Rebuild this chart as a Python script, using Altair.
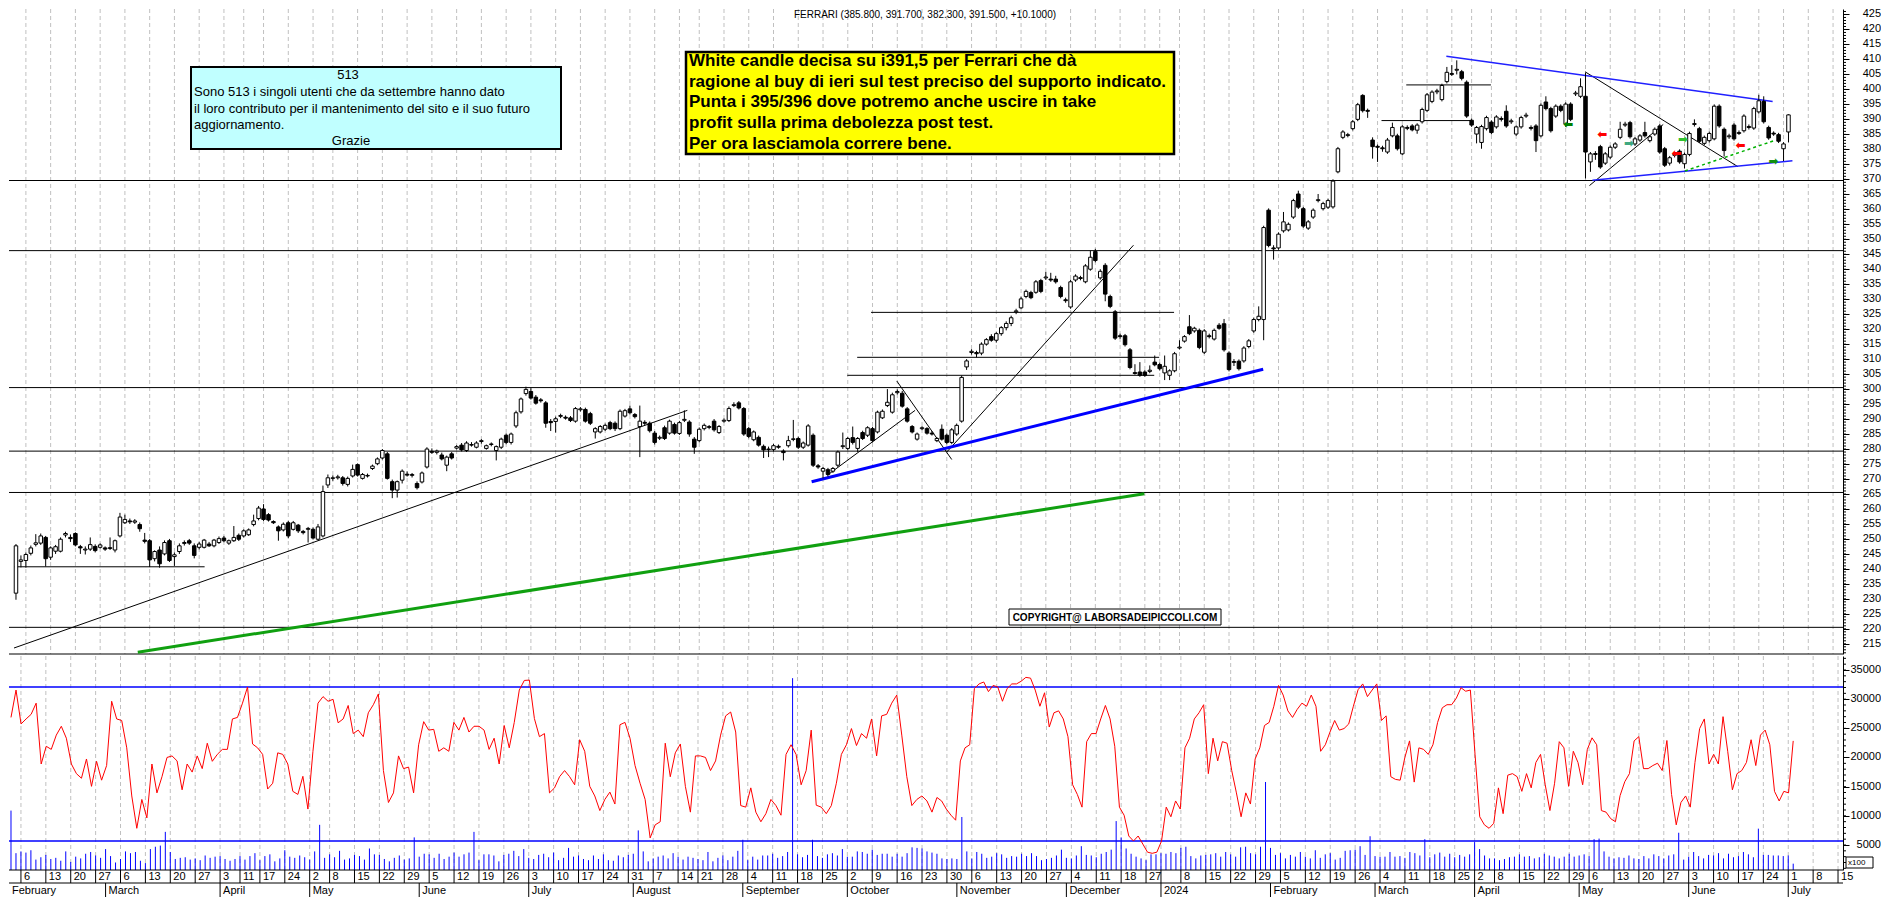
import datetime as dt
import altair as alt
import numpy as np
import pandas as pd

# ---------------- data ----------------
opens = [
231.9,242.5,242.8,245.2,248.2,248.6,250.5,243.9,245.9,245.9,
251.3,250.5,251.8,247.4,246.3,246.6,247.5,247.2,247.0,246.8,
246.3,251.0,255.4,256.0,255.6,254.8,249.6,249.4,243.4,246.3,
245.0,249.4,244.1,245.8,248.5,249.4,247.7,247.2,247.2,248.3,
247.7,248.8,250.3,248.6,249.4,251.2,251.0,251.4,254.8,256.8,
260.0,258.1,255.8,254.0,253.0,255.4,253.2,254.6,252.5,253.2,
253.2,249.9,251.0,268.0,270.2,270.4,270.4,268.2,271.0,274.8,
270.2,271.2,273.5,275.1,277.0,278.4,269.1,266.3,269.6,271.6,
271.2,268.5,269.0,274.0,279.2,278.9,278.0,274.6,278.4,280.3,
281.3,279.5,281.5,280.6,282.5,280.2,281.5,279.5,280.6,284.6,
282.2,287.7,292.4,298.5,299.2,297.3,296.4,295.4,289.2,289.2,
290.9,290.6,290.4,289.3,293.1,293.2,291.8,285.7,285.7,286.6,
288.8,288.6,286.8,291.0,293.4,291.5,287.5,288.9,288.6,285.3,
283.6,287.1,285.3,288.2,285.2,289.6,289.0,283.3,282.8,286.8,
287.2,289.3,285.5,289.3,289.5,294.5,295.4,293.5,286.8,283.1,
283.9,280.9,280.0,279.8,280.9,279.3,281.1,283.2,283.5,280.6,
281.3,284.6,274.4,272.6,273.1,272.6,274.6,280.8,280.2,283.8,
280.2,285.5,284.6,286.8,285.7,290.4,294.5,292.3,298.8,298.6,
293.4,287.5,283.3,286.8,286.8,285.3,282.8,286.6,284.6,282.2,
285.0,289.3,307.4,312.2,312.2,312.0,315.0,317.5,316.3,318.5,
320.5,321.9,325.8,327.1,330.9,332.2,332.3,336.2,337.1,336.7,
336.7,333.9,329.8,327.4,336.4,337.2,335.8,340.0,345.9,337.1,
341.3,330.9,325.8,317.8,317.8,313.1,305.5,305.7,305.7,305.9,
309.0,308.2,305.4,304.6,306.1,313.7,316.0,320.8,319.4,319.6,
312.3,317.8,316.7,321.3,321.8,312.0,308.9,309.3,309.4,314.2,
319.4,323.2,323.2,359.7,347.1,347.1,352.8,353.1,357.4,365.1,
360.2,353.7,357.4,362.9,360.2,360.7,360.8,372.5,384.0,384.6,
386.9,390.0,398.0,393.0,383.1,381.0,380.5,379.1,384.5,384.5,
378.5,387.0,387.8,386.4,389.2,393.0,396.0,399.2,396.6,402.6,
405.0,406.4,405.9,402.4,389.7,385.1,382.3,386.9,389.1,387.5,
390.3,392.7,389.2,385.1,387.5,391.1,387.3,387.8,384.5,395.8,
393.6,391.1,394.4,388.4,395.1,398.5,397.7,397.7,375.8,378.6,
380.9,375.4,377.4,380.7,384.0,388.1,388.9,381.8,383.1,385.6,
382.9,385.1,387.8,380.2,375.4,378.0,379.4,375.2,378.3,388.3,
386.9,382.0,382.9,383.5,394.4,386.7,384.2,388.1,385.3,386.2,
387.6,387.1,392.5,396.0,387.3,385.4,384.9,380.2,385.8]

highs = [
248.3,244.5,245.5,247.8,251.6,251.8,251.0,247.5,248.0,250.5,
252.4,251.5,252.2,248.0,247.5,250.5,248.2,248.5,247.5,250.5,
249.8,258.7,258.1,256.8,256.6,255.5,252.0,250.0,246.2,247.5,
249.5,250.0,245.5,248.5,249.5,250.0,248.5,249.0,250.0,249.0,
250.0,250.8,251.0,249.8,254.3,251.8,253.2,253.5,258.1,261.0,
261.6,258.6,256.2,254.5,255.5,256.0,256.0,255.0,253.0,254.0,
253.8,255.0,267.8,271.5,271.2,271.4,271.0,270.8,274.8,275.2,
272.0,271.8,274.8,277.2,280.0,279.0,269.8,269.5,273.2,272.5,
272.0,269.2,272.5,280.6,280.2,279.8,278.8,277.8,279.0,281.3,
282.0,282.6,282.3,282.6,283.3,281.5,282.2,281.2,283.8,285.2,
285.5,292.8,297.2,300.8,300.3,298.0,297.0,296.0,290.0,290.8,
291.8,291.2,291.0,294.0,294.0,293.8,292.4,287.3,288.0,288.5,
289.4,289.2,293.2,293.4,294.5,292.0,294.5,289.6,289.2,286.0,
284.5,287.8,289.8,288.8,289.4,292.9,289.6,284.0,287.2,288.5,
288.0,290.0,288.0,290.2,294.2,295.6,296.0,294.0,287.4,286.2,
284.5,281.5,280.8,281.7,281.5,279.9,284.4,289.7,284.1,282.5,
288.3,285.2,275.0,274.0,273.7,274.0,279.5,285.5,284.0,287.5,
284.0,286.1,287.6,287.4,292.8,293.2,300.0,298.8,299.9,299.4,
294.0,288.0,285.5,287.6,287.3,286.0,284.0,288.2,285.2,287.0,
288.5,304.5,310.0,313.3,312.8,315.6,317.0,318.3,319.0,321.0,
322.6,324.5,326.8,330.8,333.2,332.8,336.4,336.8,339.1,338.8,
337.8,334.5,330.5,336.5,338.3,337.8,341.7,346.2,346.8,340.0,
342.0,331.5,326.4,318.5,318.4,313.7,308.3,309.0,306.3,307.9,
311.2,308.8,311.2,306.6,312.4,316.3,318.0,324.7,320.8,320.2,
320.0,318.5,320.2,322.0,323.4,312.6,310.0,309.9,314.3,316.7,
323.8,327.6,354.5,360.3,348.0,352.3,359.1,355.6,363.5,366.2,
360.8,356.4,360.3,365.1,362.5,363.5,370.0,380.8,386.4,385.5,
389.8,395.5,398.4,393.6,384.0,381.6,381.2,383.8,388.9,385.2,
388.1,388.0,388.4,388.7,393.9,398.8,399.7,400.2,401.9,407.5,
408.1,409.7,406.5,403.0,390.3,387.8,388.2,391.2,389.7,391.4,
391.0,394.7,390.2,388.0,391.2,392.2,388.0,388.4,395.3,397.7,
394.2,395.0,395.0,395.7,395.7,399.5,403.7,405.5,379.1,379.4,
381.5,379.1,381.3,382.4,389.2,389.2,389.5,384.1,385.1,389.2,
384.8,387.3,388.4,380.8,377.8,379.0,380.0,378.9,385.9,390.0,
387.5,384.6,385.9,395.0,395.0,387.3,385.2,388.7,386.3,391.7,
388.3,394.2,398.2,397.7,387.9,386.0,385.5,382.4,391.7]

lows = [
229.7,240.5,240.4,244.5,247.5,248.0,240.8,243.0,245.0,245.5,
250.5,249.0,247.5,245.0,244.8,246.0,245.5,246.8,246.0,246.3,
245.5,250.5,255.0,255.0,255.0,252.4,248.5,240.6,242.5,240.4,
244.5,242.3,241.0,245.0,247.8,248.0,243.5,246.5,246.8,247.3,
247.2,248.3,248.9,248.0,249.0,249.3,250.5,251.0,254.2,256.2,
256.0,255.8,255.0,249.4,252.5,250.2,252.8,252.0,251.5,248.8,
249.8,249.5,250.5,267.0,269.4,269.8,267.8,267.5,270.5,270.8,
269.8,270.5,273.0,274.6,276.5,269.8,263.6,263.8,268.5,270.8,
270.5,266.5,268.5,273.5,278.4,278.2,276.2,272.6,276.5,279.8,
279.2,279.0,280.8,280.2,281.8,279.8,280.9,276.2,280.0,281.6,
281.5,287.0,291.8,297.8,296.5,294.8,295.5,287.1,286.0,285.5,
290.3,289.8,289.0,288.8,292.5,288.8,288.0,283.5,285.2,286.0,
286.3,286.0,286.3,290.5,291.5,290.2,277.3,288.0,285.5,281.5,
283.0,283.0,284.8,284.8,284.7,289.0,284.1,278.4,282.2,286.2,
286.6,285.8,285.0,288.8,289.0,294.0,293.2,284.4,283.6,282.6,
280.8,277.0,277.3,279.2,280.1,276.2,280.5,282.6,280.0,280.0,
280.8,274.0,273.4,270.2,270.8,272.0,274.0,280.0,279.6,281.5,
279.0,283.0,284.0,282.2,285.2,290.0,294.0,291.8,298.2,293.8,
288.8,285.2,282.8,286.3,284.8,284.5,282.3,282.8,281.6,281.6,
284.4,288.8,306.4,311.5,310.6,311.3,314.5,315.8,315.5,317.8,
319.6,321.0,325.0,326.6,330.3,330.0,331.8,332.0,336.4,335.8,
335.2,330.3,328.8,326.8,335.8,336.3,335.3,339.5,342.3,336.5,
329.3,327.0,316.4,316.8,314.2,306.6,304.8,304.1,304.1,305.3,
307.6,306.2,303.0,303.0,305.6,313.2,315.5,318.0,318.8,313.3,
311.7,316.9,316.2,319.8,312.5,305.9,307.7,306.2,308.8,313.6,
318.8,322.6,316.3,347.3,343.2,346.5,352.2,352.6,356.8,360.1,
353.8,353.1,356.8,362.3,359.6,360.1,360.2,372.0,383.4,384.0,
386.3,389.4,392.3,390.5,376.9,375.8,379.2,378.5,384.0,379.6,
378.0,386.4,386.0,385.2,388.6,392.4,395.4,398.4,396.0,402.0,
404.5,405.0,403.0,390.5,387.5,382.0,380.2,386.3,385.0,386.9,
389.3,387.2,388.5,384.5,386.9,390.5,386.3,379.1,384.0,393.0,
385.6,390.5,392.4,387.5,389.4,397.8,397.1,370.3,372.5,376.5,
373.5,374.8,376.8,380.1,383.4,387.5,383.6,381.2,382.5,383.9,
382.3,384.5,378.5,374.1,374.6,377.3,375.2,373.6,377.7,387.6,
382.1,381.4,382.3,383.0,387.2,377.6,383.5,382.9,384.8,385.6,
386.6,386.5,391.9,388.6,383.2,384.5,382.1,376.1,382.3]

closes = [
247.7,243.0,244.8,247.0,248.7,251.0,243.4,247.0,247.4,249.9,
251.8,250.1,248.0,247.0,246.6,248.1,246.1,248.0,246.6,247.1,
249.4,257.3,256.5,255.7,256.0,253.4,249.2,243.0,245.8,241.7,
248.8,242.8,244.7,247.7,248.8,248.6,244.5,248.3,249.6,247.7,
249.6,250.1,249.4,249.4,250.5,249.9,252.7,253.0,256.0,260.3,
256.5,256.3,255.4,252.7,254.9,251.0,255.4,252.7,252.1,253.5,
250.3,254.0,265.8,270.4,270.4,270.7,268.5,270.2,273.2,271.3,
271.5,271.0,274.3,276.7,279.5,270.2,266.3,269.1,272.6,271.3,
271.5,267.1,272.0,280.0,278.9,279.3,276.7,277.3,277.0,280.8,
279.7,282.0,281.3,282.0,282.8,281.1,281.7,280.8,283.3,282.2,
285.0,292.1,296.7,299.9,297.0,295.3,296.1,288.6,288.8,290.1,
291.2,290.3,289.5,293.5,293.4,289.3,288.6,286.8,287.5,287.9,
286.8,286.8,292.6,292.8,292.1,290.8,289.3,288.6,286.1,282.2,
283.9,283.5,289.3,285.3,288.8,289.9,285.0,280.6,286.6,287.9,
287.5,286.4,287.5,289.6,293.5,294.8,293.7,285.0,284.2,285.7,
281.3,279.7,279.8,281.1,280.6,278.8,282.8,283.4,280.6,282.0,
287.7,274.6,274.0,273.5,271.5,273.5,279.0,281.1,283.5,282.2,
283.5,283.5,287.1,282.8,292.3,292.6,295.6,298.1,299.2,294.3,
289.3,285.7,285.0,287.1,285.3,285.0,283.5,283.3,282.2,286.4,
287.9,303.9,309.4,312.6,311.8,315.0,316.5,316.3,318.5,320.5,
321.9,323.8,326.1,330.1,332.6,330.5,335.8,332.6,337.4,336.4,
335.8,330.9,329.5,335.8,337.7,336.9,341.1,344.0,342.9,339.3,
331.7,327.6,317.0,317.5,314.8,307.2,305.2,304.6,304.6,306.3,
308.1,306.8,307.6,306.1,311.8,314.0,317.5,318.5,320.3,313.9,
319.4,317.5,319.6,320.3,313.1,306.5,309.2,306.8,313.7,316.1,
323.2,324.3,353.9,347.9,346.8,351.7,355.8,355.0,362.9,360.7,
354.4,355.8,359.7,363.2,361.9,362.9,369.4,380.2,385.8,384.9,
389.2,394.9,392.9,392.7,380.9,380.7,380.2,383.1,387.3,380.2,
387.5,387.3,386.5,388.1,393.3,398.2,399.1,399.5,401.3,405.7,
405.3,406.7,403.7,391.1,388.1,387.3,387.6,390.6,385.6,390.8,
390.0,387.8,389.5,387.5,390.6,391.4,387.0,382.9,394.7,393.6,
386.2,394.4,393.0,395.1,390.0,398.8,400.9,379.1,378.5,378.3,
374.1,378.5,380.7,381.8,386.7,388.4,384.2,383.5,384.5,384.5,
384.2,386.7,379.1,374.7,377.2,378.3,375.8,378.3,385.3,388.6,
382.7,384.0,385.3,394.4,387.8,379.6,384.5,383.5,385.6,391.1,
387.3,393.6,396.2,389.2,383.8,385.1,382.7,381.8,391.5]

volumes = [
10900,3600,3900,3700,4100,2500,2900,3300,2600,2800,
2300,3900,2100,3000,2700,3500,3800,3200,2800,4300,
3100,2000,2600,3900,3600,3800,2300,1900,4300,4700,
4900,7250,3800,2600,2800,2900,2500,2700,2400,3200,
2800,3000,3100,2600,2300,2600,3100,2500,3100,3600,
2400,3100,3400,2200,2700,4100,3000,2800,3200,2900,
2500,3900,8460,2800,3400,2900,4000,2500,2700,3300,
3100,2500,4400,3400,3300,2600,2200,2800,3200,2500,
2700,6300,3000,3500,3400,2800,3500,2600,3000,3700,
3000,3400,3700,7250,2400,3400,3400,3200,2200,3300,
3500,4000,3100,4300,2800,2600,3300,3500,2900,3700,
2400,2800,4500,3000,3200,2600,2400,3200,2600,3400,
2400,2300,3200,2900,3300,3500,7500,3900,2200,2700,
3000,3200,2700,3600,3000,2500,3000,2800,2600,2400,
3800,2200,2800,3200,2400,3000,4000,5900,2400,3000,
2500,3200,3200,3500,2800,3100,3800,33600,3400,2900,
3300,5900,3100,2800,3400,3600,3200,4300,3000,3000,
3900,3800,3500,4200,3300,3500,3500,3000,3500,3000,
3600,4600,4500,4400,3900,3700,3500,2700,2600,2700,
2600,9800,3900,2700,3800,3500,2800,3000,3600,3400,
2800,3100,3000,3500,3100,3600,3100,2400,2600,2800,
3200,4200,2800,2700,3200,4800,3300,3200,2900,3500,
3800,4200,9100,6300,4400,3500,3000,2700,2400,3400,
3400,3600,3500,3800,3600,4500,4700,3100,2700,3200,
3300,3400,3600,3000,3800,3400,3000,4600,4700,3600,
3400,4700,15800,4500,3300,3600,2700,3300,3000,3800,
3000,2700,4100,2800,3400,3600,2500,2800,4000,4100,
4200,4800,3300,6500,3100,3000,3000,3800,3000,3100,
2800,3800,3600,3200,6000,2900,3400,3700,3000,3500,
2900,3300,3000,3400,5500,4300,3200,2700,2700,2400,
2600,2900,3000,3400,3000,3100,2700,2900,3500,3200,
3000,2700,3000,3500,3000,3200,3400,3100,6000,6100,
3900,3000,2700,2900,2800,3200,2700,2600,3100,2700,
3400,3100,2700,3200,3400,7100,2500,3000,3800,3100,
2700,3300,3200,3600,2700,3500,2900,3100,3800,3400,
2900,7800,3300,3300,3200,3200,3100,3200,1800]

rsi_first = [
62.1,69.2,60.4,61.7,62.9,65.8,50,54.6,53.8,57.5,59.8,56.7,50,47.5,46.3,51.3,44.2,50.7,45.8,49.6,
66.3,61.7,61.3,54.2,41.7,33.3,40.8,36,50,42.5,46.7,51.7,52.1,50.8,43.3,50,47.9,52.1,48.8,55.4,
50.7,52.5,53.8,53.8,61.7,62.1,65.8,70,55.2,54.2,52.5,43.5,45,52.9,52.5,50,42.9,42.1,46.8,38.3,
53.3,65.8,67.5,66.3,66.8,60.7,61.7,65.2,57.9,58.8,57.1,63.3,65.4,68.2,48.3,40,42.5,52.1,48.8,49.2,
42.5,55,61,58.8,59,53.3,54.2,53.3,60.8,58.8,62.1,58.3,59.8,59.8,58.8,53.8,56.7,50,60,54.2,
60.8,69.2,71.7,71.8,61.8,57.1,57.9,42.5,43.8,46.7,48.3,46.7,44.6,56.3,53.3,44.2,41.7,37.9,40.8,42.7,
39.6,60.2,60.8,56.7,49.6,45,40.8,30.8,34.2,35,55.4,46.7,52.9,55.2,44.2,37.5,52.1,52.1,51.7,48.3,
50.8,57.5,62.5,63.5,58.3,39.2,38.8,43.8,37.5,35,37.1,40.8,39.2,36.7,52.5,55,52.5,44.6,48.3,58.8,
39.3,38.8,37.1,39.2,45,52.5,55,59.2,54.8,57.9,56.7,61.7,52.1,62.5,62.9,65.8,67.9,57.5,46.7,39.2,
40.8,41.7,40.4,37.5]

rsi_second = [
41.3,40.4,38.3,36.7,35.4,50.8,54.2,55,69.6,70.8,71.3,68.8,70.4,70,66.3,69.6,70.8,70.8,71.5,72.5,
72.3,69.2,65,68.5,59.6,63.3,63.8,61.7,57.1,44.6,42.1,38.8,55.8,57.9,57.9,61.7,65.2,61.7,54.6,38.8,
36.7,31.3,30,31.3,29.2,27.1,26.8,27.1,30,38.8,36.3,40.4,38.3,54.2,56.7,61.7,63.3,65.4,47.5,56.7,
50.8,55.8,55.4,48.3,42.5,36.3,42.5,39.6,51.3,54.2,60,60.8,65,70.4,67.9,63.8,62.1,64.2,65.8,65,
67.9,65,53.3,55,58.3,61.3,58.8,59.2,60.4,65,69.3,70.8,67.5,69.2,70.8,61.3,62.5,46.7,46,45.8,
51.7,56,45.3,54.2,53.8,52.5,55,60.8,64.6,65.4,65.4,67.1,69.8,68.9,69.2,52.5,36.3,34.2,33.3,34.6,
43.8,37.1,47.1,47.5,46.7,42.9,47.5,43.8,50.4,52.5,44.6,37.9,45,55.8,54.2,44.2,53.3,50.4,44.6,53.8,
56.8,55,37.9,37.5,35.8,35,41.8,45.4,47.5,56,57.1,48.8,48.8,49.6,50.2,48.3,56.1,42.1,34.2,40,
41.7,38.8,50.4,59.2,61.7,50,52.5,50,62.3,53.3,43.3,47.5,48.3,50.4,56.3,49.6,57.5,58.8,55,42.9,
40.4,42.9,42.5,56]

support_levels = [369.6, 346.2, 300.5, 279.3, 265.5, 220.5]
rsi_levels = [70, 30]
price_ticks = list(range(215, 426, 5))
volume_ticks = list(range(5000, 35001, 5000))

# short horizontal levels: start bar, end bar, price
short_start = [-0.4, 172.7, 169.9, 167.9, 280.8, 275.8]
short_end = [38.1, 233.9, 230.9, 229.9, 297.9, 293.9]
short_price = [240.7, 325.6, 310.6, 304.6, 401.5, 389.6]

# trend lines (bar index / price)
thin_x1 = [-0.4, 163.9, 177.9, 188.0, 316.9, 317.8]
thin_y1 = [213.6, 271.3, 302.7, 279.0, 405.9, 367.9]
thin_x2 = [135.6, 181.6, 189.0, 225.7, 347.8, 332.7]
thin_y2 = [292.9, 292.9, 276.5, 348.0, 374.2, 388.3]
green_line = [24.6, 212.2, 227.9, 265.1]
blue_thick = [160.7, 269.1, 251.9, 306.6]
blue_thin_x1 = [288.9, 318.4]
blue_thin_y1 = [411.1, 369.7]
blue_thin_x2 = [354.8, 358.8]
blue_thin_y2 = [396.0, 376.2]
dotted_line = [337.1, 372.8, 355.1, 382.9]

arrow_bar = [313.5, 320.4, 325.8, 336.7, 335.4, 348.3, 355.0]
arrow_price = [388.3, 385.1, 382.0, 383.4, 378.9, 381.5, 376.0]
arrow_glyph = ["⬅", "⬅", "➡", "➡", "⬅", "⬅", "➡"]
arrow_color = ["#008000", "#ff0000", "#40a880", "#30c030", "#ff0000", "#ff0000", "#109010"]

holidays = [dt.date(2023, 4, 7), dt.date(2023, 4, 10), dt.date(2023, 5, 1), dt.date(2023, 8, 15),
            dt.date(2023, 12, 25), dt.date(2023, 12, 26), dt.date(2024, 1, 1), dt.date(2024, 3, 29),
            dt.date(2024, 4, 1), dt.date(2024, 5, 1)]
month_names = ["January", "February", "March", "April", "May", "June", "July", "August",
               "September", "October", "November", "December"]

# ---------------- layout ----------------
W, PH, VH = 1834, 645, 214
XD = [-0.4, 368.0]
PD = [211.6, 426.83]
VD = [714, 37400]
RD = [22.47, 78.05]
FONT = "Liberation Sans"

N = min(len(opens), len(highs), len(lows), len(closes))
cd = pd.DataFrame({"i": np.arange(N), "o": opens[:N], "h": highs[:N], "l": lows[:N], "c": closes[:N]})
cd["fill"] = np.where(cd["c"] >= cd["o"], "white", "black")

days = []
d = dt.date(2023, 2, 2)
hol = set(holidays)
while d <= dt.date(2024, 7, 19):
    if d.weekday() < 5 and d not in hol:
        days.append(d)
    d += dt.timedelta(days=1)

week_idx = [k for k in range(1, len(days))
            if days[k].isocalendar()[:2] != days[k - 1].isocalendar()[:2] and k <= XD[1]]
month_idx = [k for k in range(1, len(days)) if days[k].month != days[k - 1].month and k <= XD[1]]

day_labels = []
prev = None
for k in week_idx:
    t = str(days[k].day)
    if prev is not None and (k - prev[0]) < 4 and len(prev[1]) == 2:
        continue
    day_labels.append((k, t))
    prev = (k, t)
dl = pd.DataFrame({"i": [a for a, b in day_labels], "t": [b for a, b in day_labels]})
ml_i = [XD[0]] + month_idx
ml_t = [month_names[days[0].month - 1]] + [
    (str(days[k].year) if days[k].month == 1 else month_names[days[k].month - 1]) for k in month_idx]
ml = pd.DataFrame({"i": ml_i, "t": ml_t})
wk = pd.DataFrame({"i": week_idx})
mo = pd.DataFrame({"i": month_idx})

xsc = alt.Scale(domain=XD, nice=False, zero=False)
psc = alt.Scale(domain=PD, nice=False, zero=False)
vsc = alt.Scale(domain=VD, nice=False, zero=False)
rsc = alt.Scale(domain=RD, nice=False, zero=False)

price_axis = alt.Axis(orient="right", values=price_ticks, tickSize=6, tickColor="black",
                      domainColor="black", labels=False, grid=False, title=None)


def X(f):
    return alt.X(f, type="quantitative", scale=xsc, axis=None)


def PY(f):
    return alt.Y(f, type="quantitative", scale=psc, axis=price_axis)


one = pd.DataFrame({"a": [0]})


def box(x1, y1, x2, y2, fill, sw):
    return alt.Chart(one).mark_rect(fill=fill, stroke="black", strokeWidth=sw).encode(
        x=alt.value(x1), x2=alt.value(x2), y=alt.value(y1), y2=alt.value(y2))


def txt(t, x, y, size, weight="normal", align="left"):
    return alt.Chart(one).mark_text(text=t, align=align, baseline="middle", fontSize=size,
                                    fontWeight=weight, font=FONT, color="black").encode(
        x=alt.value(x), y=alt.value(y))


def seg(x1, y1, x2, y2, color, width, dash=None):
    df = pd.DataFrame({"x1": x1, "y1": y1, "x2": x2, "y2": y2})
    kw = dict(color=color, strokeWidth=width)
    if dash:
        kw["strokeDash"] = dash
    return alt.Chart(df).mark_rule(**kw).encode(
        x=X("x1"), y=PY("y1"), x2=alt.X2("x2"), y2=alt.Y2("y2"))


grid = alt.Chart(wk).mark_rule(color="#c0c0c0", strokeDash=[4, 3], strokeWidth=1).encode(x=X("i"))

hlines = alt.Chart(pd.DataFrame({"p": support_levels})).mark_rule(color="black", strokeWidth=1).encode(
    y=PY("p"))
pminor = alt.Chart(pd.DataFrame({"p": list(range(212, 427))})).mark_rule(color="black").encode(
    y=PY("p"), x=alt.value(W), x2=alt.value(W + 3))
plabels = alt.Chart(pd.DataFrame({"p": price_ticks})).mark_text(
    align="right", baseline="middle", fontSize=11, font=FONT, color="black").encode(
    y=PY("p"), x=alt.value(W + 38), text=alt.Text("p:Q", format="d"))
pbottom = alt.Chart(one).mark_rule(color="black").encode(x=alt.value(0), x2=alt.value(W), y=alt.value(PH))

shorts = seg(short_start, short_price, short_end, short_price, "black", 1)
thin = seg(thin_x1, thin_y1, thin_x2, thin_y2, "black", 1)
green = seg([green_line[0]], [green_line[1]], [green_line[2]], [green_line[3]], "#10a010", 3)
bluek = seg([blue_thick[0]], [blue_thick[1]], [blue_thick[2]], [blue_thick[3]], "#0000ff", 3)
bluen = seg(blue_thin_x1, blue_thin_y1, blue_thin_x2, blue_thin_y2, "#2020ff", 1.5)
dotted = seg([dotted_line[0]], [dotted_line[1]], [dotted_line[2]], [dotted_line[3]], "#00b000", 1.5, [3, 3])

wick = alt.Chart(cd).mark_rule(color="black", strokeWidth=1).encode(x=X("i"), y=PY("l"), y2=alt.Y2("h"))
body = alt.Chart(cd).mark_bar(size=3.5, stroke="black", strokeWidth=1).encode(
    x=X("i"), y=PY("o"), y2=alt.Y2("c"), fill=alt.Fill("fill:N", scale=None))

arr = pd.DataFrame({"i": arrow_bar, "p": arrow_price, "g": arrow_glyph, "c": arrow_color})
arrows = alt.Chart(arr).mark_text(font="DejaVu Sans", fontSize=12, fontWeight="bold").encode(
    x=X("i"), y=PY("p"), text="g:N", color=alt.Color("c:N", scale=None))

title = txt("FERRARI (385.800, 391.700, 382.300, 391.500, +10.1000)", 916, 5.5, 10, align="center")
cyan = box(182, 58, 552, 140, "#c0ffff", 2)
cyan_t = [
    txt("513", 339, 66, 13, align="center"),
    txt("Sono 513 i singoli utenti che da settembre hanno dato", 185, 82.5, 13),
    txt("il loro contributo per il mantenimento del sito e il suo futuro", 185, 100, 13),
    txt("aggiornamento.", 185, 116, 13),
    txt("Grazie", 342, 132, 13, align="center"),
]
yellow = box(677, 43, 1165, 145, "#ffff00", 2.5)
yl = ["White candle decisa su i391,5 per Ferrari che dà",
      "ragione al buy di ieri sul test preciso del supporto indicato.",
      "Punta i 395/396 dove potremo anche uscire in take",
      "profit sulla prima debolezza post test.",
      "Per ora lasciamola correre bene."]
yy = [52, 73, 93, 114, 135]
yellow_t = [txt(t, 680, y, 17, weight="bold") for t, y in zip(yl, yy)]
copy_box = box(1000, 600, 1212, 616, "white", 1)
copy_t = txt("COPYRIGHT@ LABORSADEIPICCOLI.COM", 1106, 608.5, 10, weight="bold", align="center")

price = alt.layer(grid, hlines, pminor, plabels, pbottom, shorts, thin, green, bluek, bluen, dotted,
                  wick, body, arrows, title, cyan, *cyan_t, yellow, *yellow_t, copy_box, copy_t
                  ).properties(width=W, height=PH)

# ---------------- volume / RSI panel ----------------
vd = pd.DataFrame({"i": np.arange(len(volumes)), "v": volumes})
vol_axis = alt.Axis(orient="right", values=volume_ticks, tickSize=6, tickColor="black",
                    domainColor="black", labels=False, grid=False, title=None)
vbars = alt.Chart(vd).mark_rule(color="#0000ff", strokeWidth=1).encode(
    x=X("i"), y=alt.Y("v:Q", scale=vsc, axis=vol_axis), y2=alt.value(VH))
vminor = alt.Chart(pd.DataFrame({"v": list(range(1000, 37001, 1000))})).mark_rule(color="black").encode(
    y=alt.Y("v:Q", scale=vsc, axis=None), x=alt.value(W), x2=alt.value(W + 3))
vlabels = alt.Chart(pd.DataFrame({"v": volume_ticks})).mark_text(
    align="right", baseline="middle", fontSize=11, font=FONT, color="black").encode(
    y=alt.Y("v:Q", scale=vsc, axis=None), x=alt.value(W + 38), text=alt.Text("v:Q", format="d"))

rx = np.concatenate([np.linspace(0, 185, len(rsi_first)), np.linspace(186, 358, len(rsi_second))])
rd = pd.DataFrame({"x": rx, "r": rsi_first + rsi_second})
rline = alt.Chart(rd).mark_line(color="#ff0000", strokeWidth=1).encode(
    x=X("x"), y=alt.Y("r:Q", scale=rsc, axis=None))
rlev = alt.Chart(pd.DataFrame({"r": rsi_levels})).mark_rule(color="#0000ff", strokeWidth=1.5).encode(
    y=alt.Y("r:Q", scale=rsc, axis=None))

vbottom = alt.Chart(one).mark_rule(color="black").encode(x=alt.value(0), x2=alt.value(W), y=alt.value(VH))
row_line = alt.Chart(one).mark_rule(color="black").encode(x=alt.value(0), x2=alt.value(W), y=alt.value(VH + 13))
wsep = alt.Chart(wk).mark_rule(color="black").encode(x=X("i"), y=alt.value(VH), y2=alt.value(VH + 13))
msep = alt.Chart(mo).mark_rule(color="black").encode(x=X("i"), y=alt.value(VH + 13), y2=alt.value(VH + 27))
dtext = alt.Chart(dl).mark_text(align="left", baseline="middle", dx=3, fontSize=11, font=FONT,
                                color="black").encode(x=X("i"), y=alt.value(VH + 7), text="t:N")
mtext = alt.Chart(ml).mark_text(align="left", baseline="middle", dx=3, fontSize=11, font=FONT,
                                color="black").encode(x=X("i"), y=alt.value(VH + 20.5), text="t:N")
xbox = box(W + 3, VH - 13, W + 30, VH - 2, "white", 1)
xtxt = txt("x100", W + 5, VH - 7.5, 8)

volume = alt.layer(grid, vbars, vminor, vlabels, rlev, rline, vbottom, row_line, wsep, msep, dtext, mtext,
                   xbox, xtxt).resolve_scale(y="independent").properties(width=W, height=VH)

chart = alt.vconcat(price, volume, spacing=0).properties(padding=0).configure_view(stroke=None)
chart.save("out.html", embed_options={"renderer": "svg", "actions": False})
